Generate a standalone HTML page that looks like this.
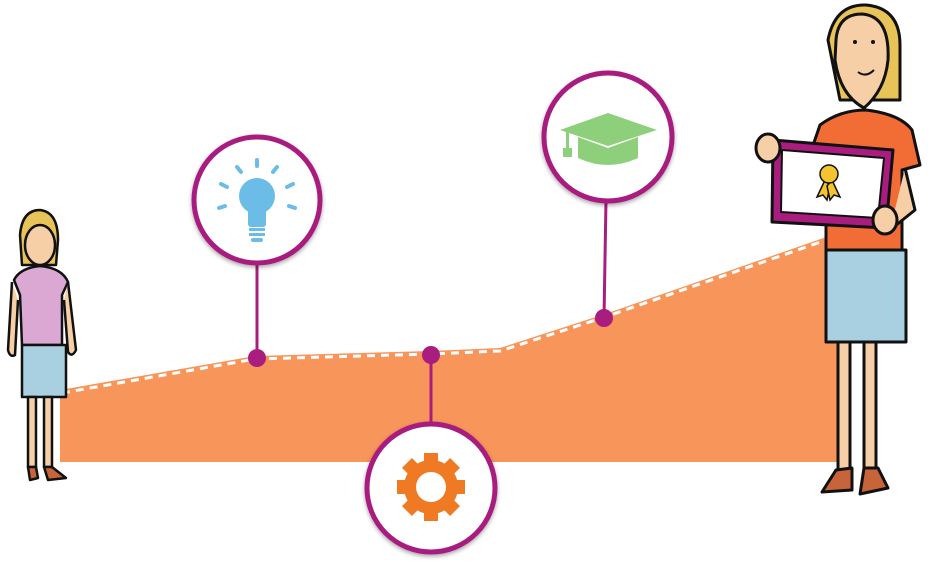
<!DOCTYPE html>
<html><head><meta charset="utf-8"><style>
html,body{margin:0;padding:0;background:#fff;width:935px;height:566px;overflow:hidden}
</style></head><body>
<svg width="935" height="566" viewBox="0 0 935 566" xmlns="http://www.w3.org/2000/svg">
<defs>
<filter id="sh" x="-20%" y="-20%" width="140%" height="140%"><feDropShadow dx="0" dy="2" stdDeviation="2" flood-opacity="0.35"/></filter>
</defs>
<!-- orange area -->
<polygon points="60,390 255,356 430,351 500,348 605,314 835,234 845,462 60,462" fill="#f7955a"/>
<polyline points="62,393 255,359 430,354 500,351 605,317 835,237" fill="none" stroke="#fff" stroke-width="3" stroke-dasharray="8,6"/>
<!-- connectors -->
<g stroke="#a91d7f" stroke-width="3">
<line x1="257" y1="262" x2="257" y2="358"/>
<line x1="606" y1="200" x2="604" y2="318"/>
<line x1="431" y1="355" x2="431" y2="425"/>
</g>
<g fill="#a91d7f"><circle cx="257" cy="358" r="9"/><circle cx="604" cy="318" r="9"/><circle cx="431" cy="355" r="9"/></g>
<!-- circles -->
<g fill="#fff" stroke="#a91d7f" stroke-width="5" filter="url(#sh)">
<circle cx="257" cy="200" r="63"/>
<circle cx="608" cy="137" r="64"/>
<circle cx="431" cy="488" r="64"/>
</g>
<!-- bulb -->
<g fill="#6cbce8" stroke="#6cbce8">
<circle cx="257" cy="196" r="18" stroke="none"/>
<rect x="248" y="205" width="18" height="22" rx="3" stroke="none"/>
<rect x="249" y="228" width="16" height="3" stroke="none"/>
<rect x="249" y="233" width="16" height="3" stroke="none"/>
<rect x="251" y="238" width="12" height="4" rx="2" stroke="none"/>
<g stroke-width="4" stroke-linecap="round">
<line x1="257" y1="160" x2="257" y2="166"/>
<line x1="237" y1="167" x2="241" y2="172"/>
<line x1="277" y1="167" x2="273" y2="172"/>
<line x1="221" y1="184" x2="227" y2="187"/>
<line x1="293" y1="184" x2="287" y2="187"/>
<line x1="219" y1="208" x2="225" y2="206"/>
<line x1="295" y1="208" x2="289" y2="206"/>
</g></g>
<!-- cap -->
<g fill="#8dcf7a">
<polygon points="560,130 608,113 657,130 608,146"/>
<path d="M578,137 L578,158 Q608,172 638,158 L638,137 L608,148 Z"/>
<rect x="566" y="132" width="3" height="18"/>
<rect x="563" y="148" width="9" height="9"/>
</g>
<!-- gear -->
<g fill="#f07a24">
<circle cx="431" cy="487" r="27"/>
<g>
<rect x="424" y="453" width="14" height="68"/>
<rect x="424" y="453" width="14" height="68" transform="rotate(45 431 487)"/>
<rect x="424" y="453" width="14" height="68" transform="rotate(90 431 487)"/>
<rect x="424" y="453" width="14" height="68" transform="rotate(135 431 487)"/>
</g>
<circle cx="431" cy="487" r="15" fill="#fff"/>
</g>
<!-- girl -->
<g stroke="#111" stroke-width="2.5" stroke-linejoin="round">
<path d="M20,235 Q22,210 40,210 Q58,212 58,240 L56,265 L22,265 Z" fill="#e8c458"/>
<ellipse cx="40" cy="245" rx="15" ry="20" fill="#f6cfa6"/>
<path d="M14,280 Q20,268 40,266 Q62,268 68,282 L62,295 L62,345 L22,345 L20,295 Z" fill="#dba8d4"/>
<path d="M12,282 L8,350 Q10,358 15,355 L18,300" fill="#f6cfa6"/>
<path d="M68,282 L76,350 Q72,358 68,352 L64,300" fill="#f6cfa6"/>
<rect x="22" y="345" width="44" height="52" fill="#a8d0e0"/>
<rect x="28" y="397" width="8" height="70" fill="#f6cfa6"/>
<rect x="44" y="397" width="8" height="70" fill="#f6cfa6"/>
<path d="M28,467 L36,467 L38,478 L30,480 Z" fill="#c8643a"/>
<path d="M44,467 L52,467 L66,478 L48,480 Z" fill="#c8643a"/>
</g>
<!-- woman -->
<g stroke="#111" stroke-width="3" stroke-linejoin="round">
<path d="M828,40 Q835,4 866,5 Q900,8 900,45 L900,100 L840,100 Z" fill="#e8c458"/>
<path d="M836,40 Q838,14 862,14 Q890,16 888,60 Q885,90 864,108 Q840,95 835,60 Z" fill="#f6cfa6"/>
<path d="M820,125 Q840,110 866,110 Q900,114 912,130 L920,165 L902,170 L902,250 L826,250 L826,165 L808,160 Z" fill="#f26d35"/>
<rect x="826" y="250" width="80" height="92" fill="#a8d0e0"/>
<rect x="838" y="342" width="12" height="128" fill="#f6cfa6"/>
<rect x="864" y="342" width="12" height="128" fill="#f6cfa6"/>
<path d="M836,470 L852,468 L852,490 L822,492 Z" fill="#c8643a"/>
<path d="M864,468 L878,468 L888,488 L860,494 Z" fill="#c8643a"/>
<path d="M905,168 L915,210 L890,230" fill="#f6cfa6"/>
<polygon points="773,140 893,150 886,228 772,222" fill="#a91d7f"/>
<polygon points="782,150 884,158 878,218 781,212" fill="#fff" stroke-width="2"/>
<ellipse cx="768" cy="148" rx="12" ry="14" fill="#f6cfa6"/>
<ellipse cx="885" cy="220" rx="12" ry="14" fill="#f6cfa6"/>
</g>
<g fill="#111">
<circle cx="855" cy="42" r="2"/><circle cx="873" cy="42" r="2"/>
</g>
<path d="M858,72 Q866,78 874,70" fill="none" stroke="#111" stroke-width="2"/>
<g fill="#f4c430" stroke="#111" stroke-width="1.5">
<path d="M825,180 L817,197 L823,195 L827,200 L830,186 Z"/>
<path d="M832,180 L840,197 L834,195 L830,200 L827,186 Z"/>
<circle cx="829" cy="174" r="9"/>
</g>
</svg>
</body></html>
